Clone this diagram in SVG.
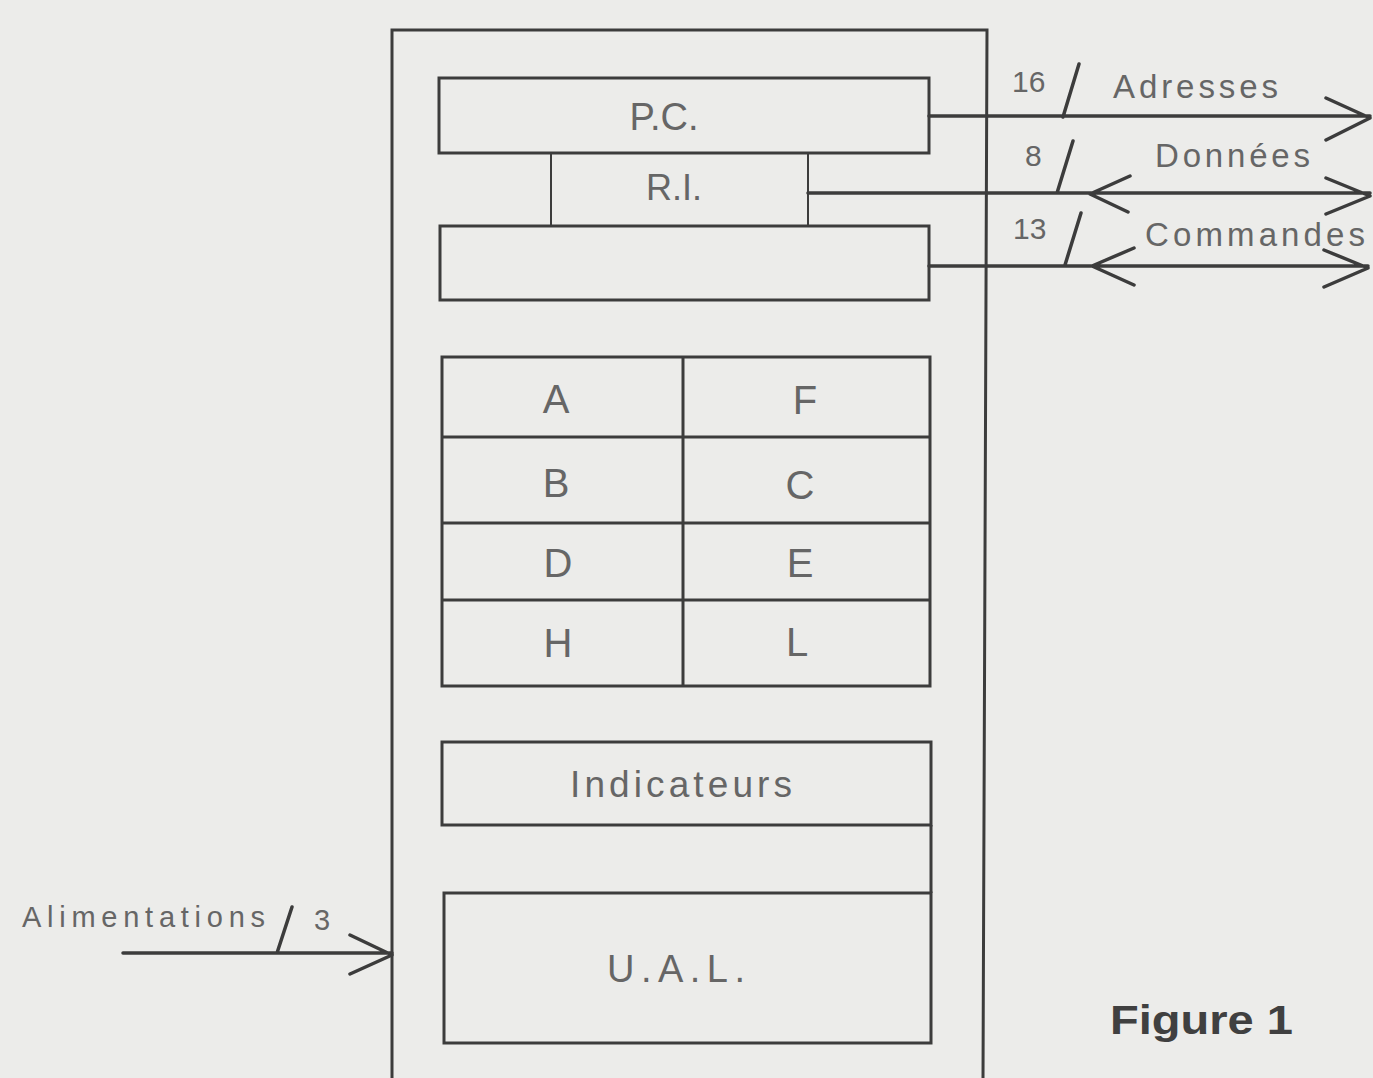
<svg xmlns="http://www.w3.org/2000/svg" width="1373" height="1078" viewBox="0 0 1373 1078">
<style>
.bx{fill:none;stroke:#3c3c3c;stroke-width:3}
.ln{fill:none;stroke:#3c3c3c;stroke-width:3.5;stroke-linecap:round;stroke-linejoin:round}
.th{fill:none;stroke:#3c3c3c;stroke-width:2}
.t{font-family:"Liberation Sans",Arial,sans-serif;fill:#666;text-anchor:middle}
.tl{font-family:"Liberation Sans",Arial,sans-serif;fill:#666}
</style>
<rect width="1373" height="1078" fill="#ececea"/>
<g id="cpu"><path class="bx" d="M392,1078 V30 H987 L983,1078"/></g>
<g id="pc"><rect class="bx" x="439" y="78" width="490" height="75"/><text class="t" x="664" y="130" font-size="38">P.C.</text></g>
<g id="ri"><path class="th" d="M551,153 V226 M808,153 V226"/><text class="t" x="674" y="200" font-size="36">R.I.</text></g>
<g id="cmd"><rect class="bx" x="440" y="226" width="489" height="74"/></g>
<g id="regs">
<rect class="bx" x="442" y="357" width="488" height="329"/>
<path class="bx" d="M442,437 H930 M442,523 H930 M442,600 H930 M683,357 V686"/>
<text class="t" x="556" y="413" font-size="40">A</text><text class="t" x="805" y="414" font-size="40">F</text>
<text class="t" x="556" y="497" font-size="40">B</text><text class="t" x="800" y="499" font-size="40">C</text>
<text class="t" x="558" y="577" font-size="40">D</text><text class="t" x="800" y="577" font-size="40">E</text>
<text class="t" x="558" y="657" font-size="40">H</text><text class="t" x="797" y="656" font-size="40">L</text>
</g>
<g id="ind"><rect class="bx" x="442" y="742" width="489" height="83"/><text class="t" x="681" y="797" font-size="37" textLength="222" lengthAdjust="spacing">Indicateurs</text></g>
<g id="link"><path class="bx" d="M931,825 V893"/></g>
<g id="ual"><rect class="bx" x="444" y="893" width="487" height="150"/><text class="t" x="676" y="982" font-size="38" textLength="138" lengthAdjust="spacing">U.A.L.</text></g>
<g id="connectors">
<path class="ln" d="M929,116 H1370 M1326,98 L1370,118 L1326,140 M1063,117 L1079,64"/>
<path class="ln" d="M808,193 H1370 M1130,176 L1090,194 L1128,212 M1326,178 L1370,196 L1326,214 M1057,193 L1073,141"/>
<path class="ln" d="M929,266 H1368 M1134,248 L1092,266 L1134,285 M1324,250 L1368,268 L1324,287 M1065,265 L1081,213"/>
<path class="ln" d="M123,953 H392 M350,935 L392,955 L350,974 M277,953 L292,907"/>
</g>
<g id="labels">
<text class="tl" x="1012" y="92" font-size="30">16</text>
<text class="tl" x="1113" y="98" font-size="33" textLength="165" lengthAdjust="spacing">Adresses</text>
<text class="tl" x="1025" y="166" font-size="30">8</text>
<text class="tl" x="1155" y="167" font-size="33" textLength="155" lengthAdjust="spacing">Données</text>
<text class="tl" x="1013" y="239" font-size="30">13</text>
<text class="tl" x="1145" y="246" font-size="33" textLength="220" lengthAdjust="spacing">Commandes</text>
<text class="tl" x="22" y="927" font-size="29" textLength="243" lengthAdjust="spacing">Alimentations</text>
<text class="tl" x="314" y="930" font-size="29">3</text>
<text x="1110" y="1034" font-family="'Liberation Sans Narrow','Liberation Sans',Arial,sans-serif" font-weight="bold" font-size="40" fill="#404040" textLength="183" lengthAdjust="spacingAndGlyphs">Figure 1</text>
</g>
</svg>
